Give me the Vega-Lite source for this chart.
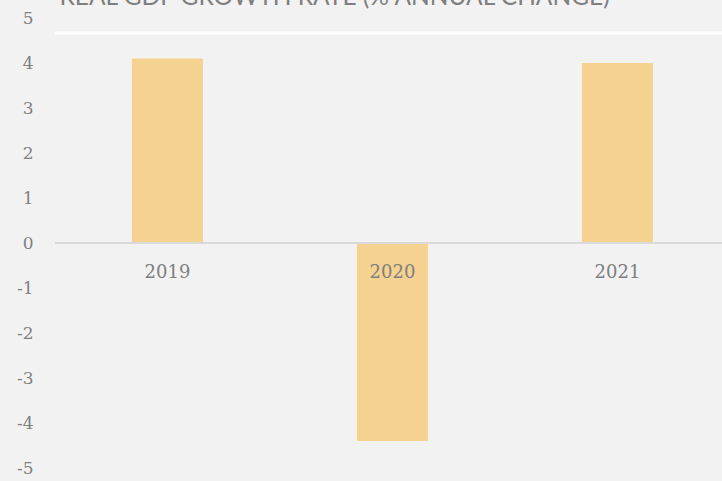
{
  "$schema": "https://vega.github.io/schema/vega-lite/v6.json",
  "width": 667,
  "height": 450,
  "autosize": {"type": "none"},
  "padding": {"left": 55, "top": 18, "right": 0, "bottom": 13},
  "background": "#f2f2f2",
  "config": {"view": {"stroke": null}, "font": "DejaVu Serif"},
  "title": {
    "text": "REAL GDP GROWTH RATE (% ANNUAL CHANGE)",
    "anchor": "start",
    "fontSize": 24.5,
    "color": "#7f7f7f",
    "font": "Lato",
    "fontWeight": "normal",
    "offset": 0,
    "baseline": "alphabetic",
    "dy": 20,
    "dx": 43
  },
  "data": {
    "values": [
      {"year": "2019", "growth": 4.1},
      {"year": "2020", "growth": -4.4},
      {"year": "2021", "growth": 4.0}
    ]
  },
  "layer": [
    {
      "mark": {"type": "rule", "color": "#ffffff", "strokeWidth": 2.5},
      "encoding": {
        "y": {"datum": 4.667, "type": "quantitative", "scale": {"domain": [-5, 5], "nice": false}}
      }
    },
    {
      "mark": {"type": "bar", "color": "#f6d291"},
      "encoding": {
        "x": {
          "field": "year",
          "type": "nominal",
          "scale": {"paddingInner": 0.6844, "paddingOuter": 0.3245, "align": 0.527},
          "axis": null
        },
        "y": {
          "field": "growth",
          "type": "quantitative",
          "scale": {"domain": [-5, 5], "nice": false},
          "axis": {
            "values": [-5, -4, -3, -2, -1, 0, 1, 2, 3, 4, 5],
            "labelExpr": "replace(datum.label, '\u2212', '-')",
            "grid": false,
            "domain": false,
            "ticks": false,
            "labelPadding": 22,
            "labelFontSize": 17,
            "labelColor": "#808080",
            "labelFont": "DejaVu Serif",
            "title": null
          }
        }
      }
    },
    {
      "mark": {"type": "rule", "color": "#d9d9d9", "strokeWidth": 2},
      "encoding": {
        "y": {"datum": 0, "type": "quantitative"}
      }
    },
    {
      "mark": {"type": "text", "dy": 30, "baseline": "middle", "align": "center", "fontSize": 18, "color": "#7f7f7f", "font": "DejaVu Serif"},
      "encoding": {
        "x": {"field": "year", "type": "nominal"},
        "y": {"datum": 0, "type": "quantitative"},
        "text": {"field": "year", "type": "nominal"}
      }
    }
  ]
}
